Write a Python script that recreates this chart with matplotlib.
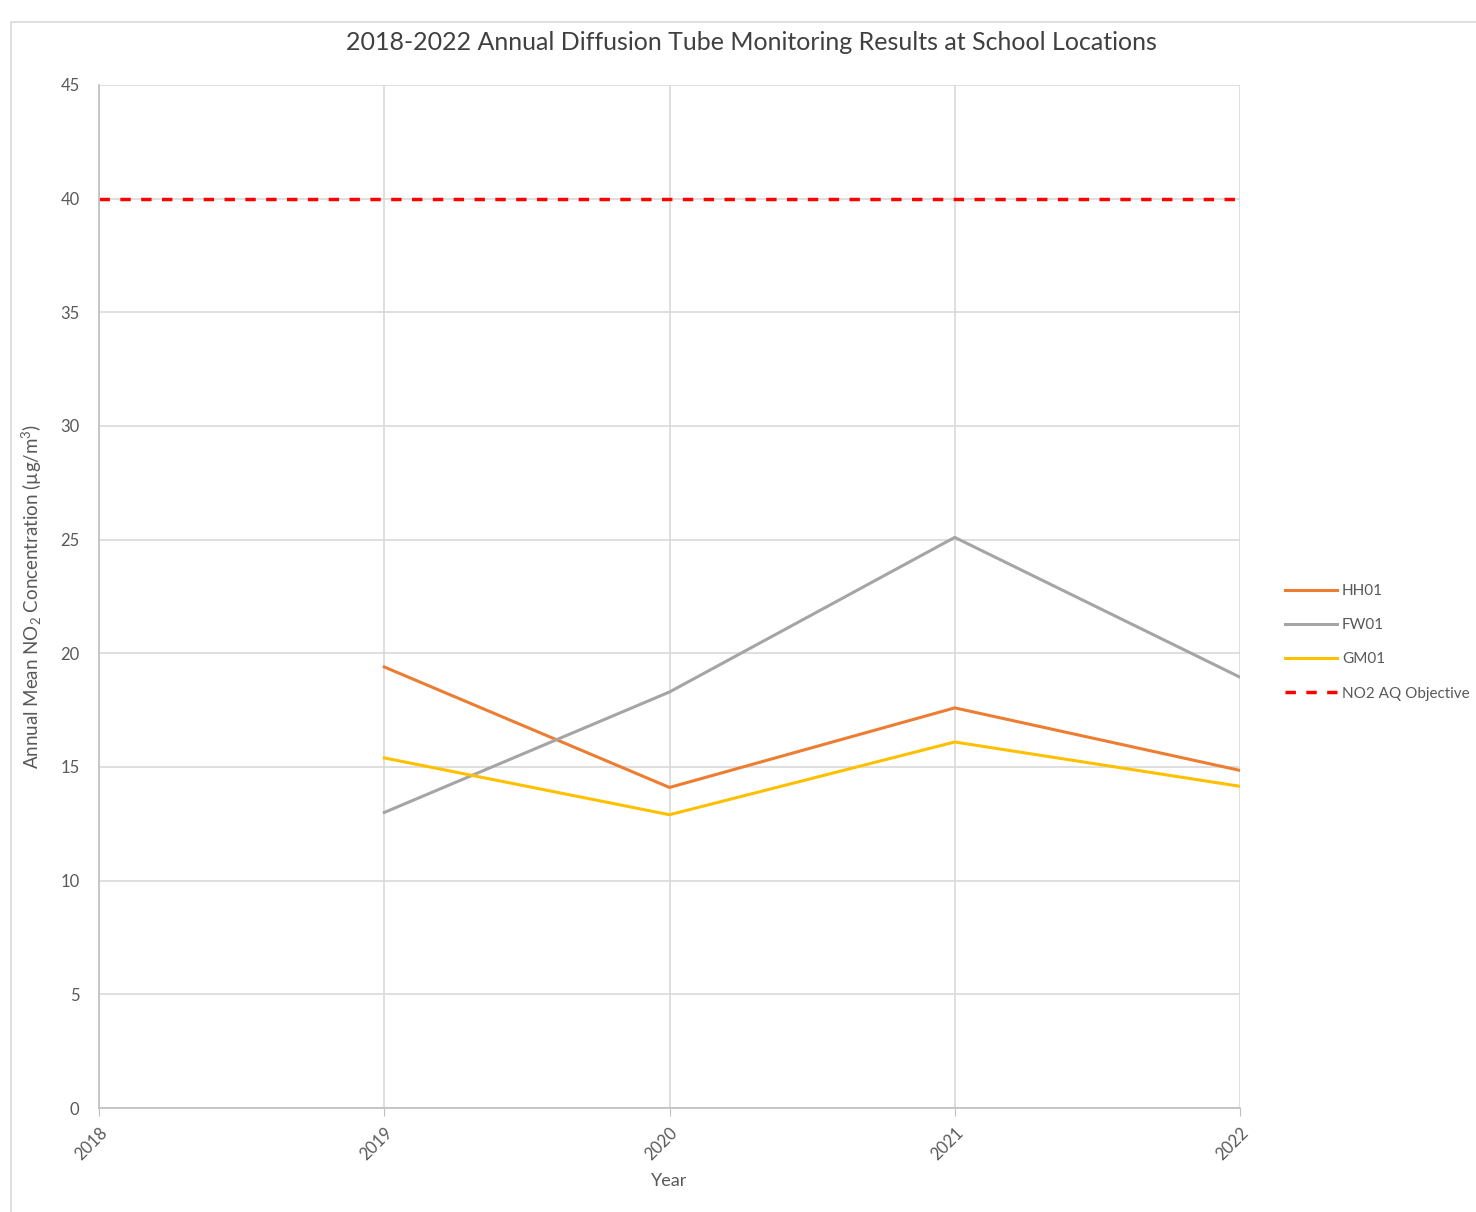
import matplotlib
matplotlib.use("Agg")
import matplotlib.pyplot as plt
from matplotlib.patches import Rectangle

plt.rcParams['font.family'] = ['Lato', 'DejaVu Sans']
plt.rcParams['mathtext.fontset'] = 'custom'
plt.rcParams['mathtext.rm'] = 'Lato'
plt.rcParams['mathtext.it'] = 'Lato:italic'

years = [2018, 2019, 2020, 2021, 2022]
site_years = [2019, 2020, 2021, 2022]
hh01 = [19.4, 14.1, 17.6, 14.85]
fw01 = [13.0, 18.3, 25.1, 18.95]
gm01 = [15.4, 12.9, 16.1, 14.15]
objective = [40, 40, 40, 40, 40]

txt = '#595959'

fig = plt.figure(figsize=(14.76, 12.12), dpi=100)
# light outline of the chart area
fig.patches.append(Rectangle((0.0075, -0.01), 1.2, 1.0016 - 0.01, transform=fig.transFigure,
                             fill=False, edgecolor='#d9d9d9', lw=1.2))
ax = fig.add_axes([0.0671, 0.0858, 0.7730, 0.8441])

ax.plot(site_years, hh01, color='#ED7D31', lw=2.2, label='HH01')
ax.plot(site_years, fw01, color='#A5A5A5', lw=2.2, label='FW01')
ax.plot(site_years, gm01, color='#FFC000', lw=2.2, label='GM01')
ax.plot(years, objective, color='#FF0000', lw=2.5, ls=(0, (3, 3)), label='NO2 AQ Objective')

ax.set_xlim(2018, 2022)
ax.set_ylim(0, 45)
ax.set_xticks(years)
ax.set_xticklabels([str(y) for y in years], rotation=45, ha='right', rotation_mode='anchor')
ax.set_yticks(range(0, 46, 5))
ax.grid(True, color='#d9d9d9', lw=1.2)
ax.set_axisbelow(True)
for s in ['top', 'right']:
    ax.spines[s].set_visible(False)
for s in ['left', 'bottom']:
    ax.spines[s].set_color('#bfbfbf')
    ax.spines[s].set_linewidth(1.2)
ax.tick_params(colors=txt, labelsize=12, length=0, pad=14)
ax.tick_params(axis='x', length=6, color='#bfbfbf', pad=6)

ax.set_xlabel('Year', color=txt, fontsize=13, labelpad=7)
ax.set_ylabel('Annual Mean NO$_2$ Concentration (µg/m$^3$)', color=txt, fontsize=13.5, labelpad=12)
fig.text(0.509, 1 - 43 / 1212, '2018-2022 Annual Diffusion Tube Monitoring Results at School Locations',
         color='#404040', fontsize=18, ha='center', va='center')

leg = fig.legend(*ax.get_legend_handles_labels(), loc='upper left',
                 bbox_to_anchor=(1285 / 1476, 1 - 584 / 1212), frameon=False,
                 borderpad=0, borderaxespad=0, fontsize=11, handlelength=3.4,
                 handletextpad=0.33, labelspacing=1.32)
for t in leg.get_texts():
    t.set_color(txt)

fig.savefig('out.png', dpi=100)
